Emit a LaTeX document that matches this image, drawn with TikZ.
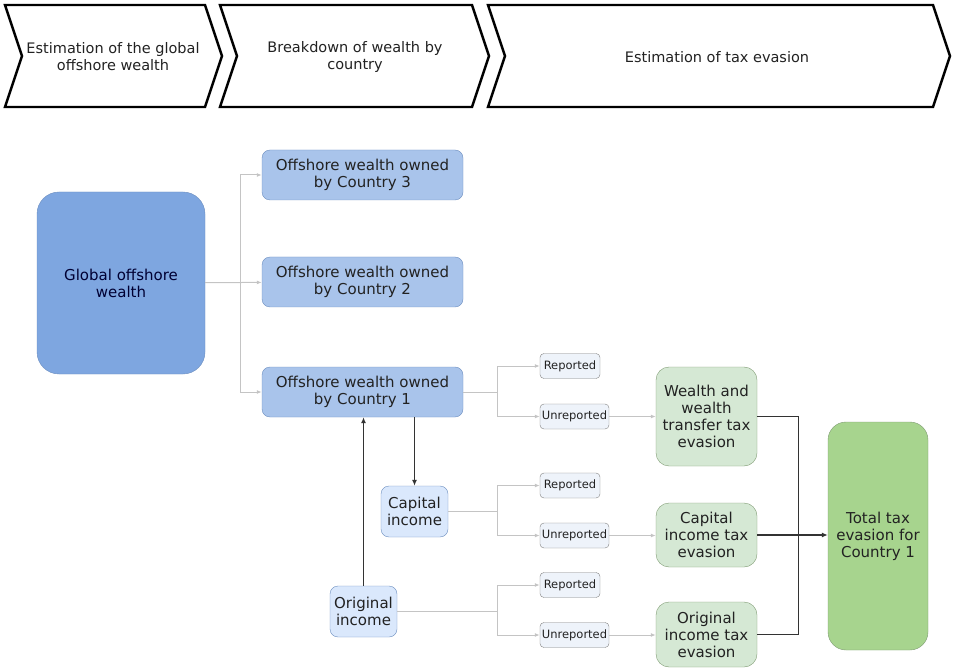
\documentclass[tikz,border=0pt]{standalone}
\usepackage{fontspec}
\setmainfont{DejaVu Sans}
\usetikzlibrary{arrows.meta}

\definecolor{globfill}{HTML}{7EA6E0}
\definecolor{ownfill}{HTML}{A9C4EB}
\definecolor{incfill}{HTML}{DAE8FC}
\definecolor{repfill}{HTML}{EEF3FA}
\definecolor{taxfill}{HTML}{D5E8D4}
\definecolor{sumfill}{HTML}{A7D48E}
\definecolor{bluedraw}{HTML}{6C8EBF}
\definecolor{greendraw}{HTML}{7E9A72}
\definecolor{litegray}{HTML}{C4C4C4}
\definecolor{inktext}{HTML}{222222}

\tikzset{
  stage/.style={draw=black, line width=2.4pt, fill=white},
  stagetext/.style={align=center, font=\fontsize{14.5}{17}\selectfont, text=inktext},
  boxtext/.style={align=center, inner sep=0pt, font=\fontsize{15}{17}\selectfont, text=inktext},
  globbox/.style={boxtext, draw=bluedraw, fill=globfill, rounded corners=22pt, minimum width=168pt, minimum height=182pt, text=blue!20!black},
  ownbox/.style={boxtext, draw=bluedraw, fill=ownfill, rounded corners=8pt, minimum width=201pt, minimum height=50pt},
  incbox/.style={boxtext, draw=bluedraw, fill=incfill, rounded corners=8pt, minimum width=67pt, minimum height=51pt},
  repbox/.style={boxtext, draw=gray, fill=repfill, rounded corners=4pt, minimum height=25pt, font=\fontsize{11.5}{13}\selectfont},
  taxbox/.style={boxtext, draw=greendraw, fill=taxfill, rounded corners=13pt, minimum width=101pt},
  sumbox/.style={boxtext, draw=greendraw, fill=sumfill, rounded corners=18pt, minimum width=100pt, minimum height=228pt},
  lite/.style={draw=litegray, line width=1pt, -{Latex[length=5pt,width=4pt]}},
  dark/.style={draw=black!80, line width=1.2pt, -{Latex[length=6pt,width=5pt]}},
}

\begin{document}
\begin{tikzpicture}[x=1pt, y=-1pt]
\useasboundingbox (0,0) rectangle (953,668);
\draw[stage] (5,5) -- (205,5) -- (222,56) -- (205,107) -- (5,107) -- (22,56) -- cycle;
\draw[stage] (220,5) -- (472,5) -- (489,56) -- (472,107) -- (220,107) -- (237,56) -- cycle;
\draw[stage] (488,5) -- (933,5) -- (950,56) -- (933,107) -- (488,107) -- (505,56) -- cycle;
\node[stagetext] (s1) at (113,57) {Estimation of the global\\offshore wealth};
\node[stagetext] (s2) at (355,57) {Breakdown of wealth by\\country};
\node[stagetext] (s3) at (717,57) {Estimation of tax evasion};

\node[globbox] (glob) at (121,283) {Global offshore\\wealth};
\node[ownbox] (c3) at (362.5,175) {Offshore wealth owned\\by Country 3};
\node[ownbox] (c2) at (362.5,282) {Offshore wealth owned\\by Country 2};
\node[ownbox] (c1) at (362.5,392) {Offshore wealth owned\\by Country 1};
\node[incbox] (cap) at (414.5,511.5) {Capital\\income};
\node[incbox] (orig) at (363.5,611.5) {Original\\income};

\node[repbox, minimum width=60pt] (rep1) at (570,366) {Reported};
\node[repbox, minimum width=69pt] (unr1) at (574.5,416.5) {Unreported};
\node[repbox, minimum width=60pt] (rep2) at (570,485.5) {Reported};
\node[repbox, minimum width=69pt] (unr2) at (574.5,535.5) {Unreported};
\node[repbox, minimum width=60pt] (rep3) at (570,585) {Reported};
\node[repbox, minimum width=69pt] (unr3) at (574.5,635) {Unreported};

\node[taxbox, minimum height=99pt] (wtax) at (706.5,416.5) {Wealth and\\wealth\\transfer tax\\evasion};
\node[taxbox, minimum height=64pt] (ctax) at (706.5,535) {Capital\\income tax\\evasion};
\node[taxbox, minimum height=65pt] (otax) at (706.5,634.5) {Original\\income tax\\evasion};
\node[sumbox] (total) at (878,536) {Total tax\\evasion for\\Country 1};

\draw[lite] (glob) -- (c2);
\draw[lite] (glob.east) -- ++(35,0) |- (c3.west);
\draw[lite] (glob.east) -- ++(35,0) |- (c1.west);
\draw[lite] (c1.east) -- ++(34,0) |- (rep1.west);
\draw[lite] (c1.east) -- ++(34,0) |- (unr1.west);
\draw[lite] (cap.east) -- ++(49,0) |- (rep2.west);
\draw[lite] (cap.east) -- ++(49,0) |- (unr2.west);
\draw[lite] (orig.east) -- ++(100,0) |- (rep3.west);
\draw[lite] (orig.east) -- ++(100,0) |- (unr3.west);
\draw[lite] (unr1) -- (wtax);
\draw[lite] (unr2.east) -- (unr2.east -| ctax.west);
\draw[lite] (unr3.east) -- (unr3.east -| otax.west);

\draw[dark] (c1.south -| cap.north) -- (cap.north);
\draw[dark] (orig.north) -- (orig.north |- c1.south);
\draw[dark, -] (wtax.east) -- ++(41,0) |- (otax.east);
\draw[dark] (ctax.east) -- (ctax.east -| total.west);
\end{tikzpicture}
\end{document}
